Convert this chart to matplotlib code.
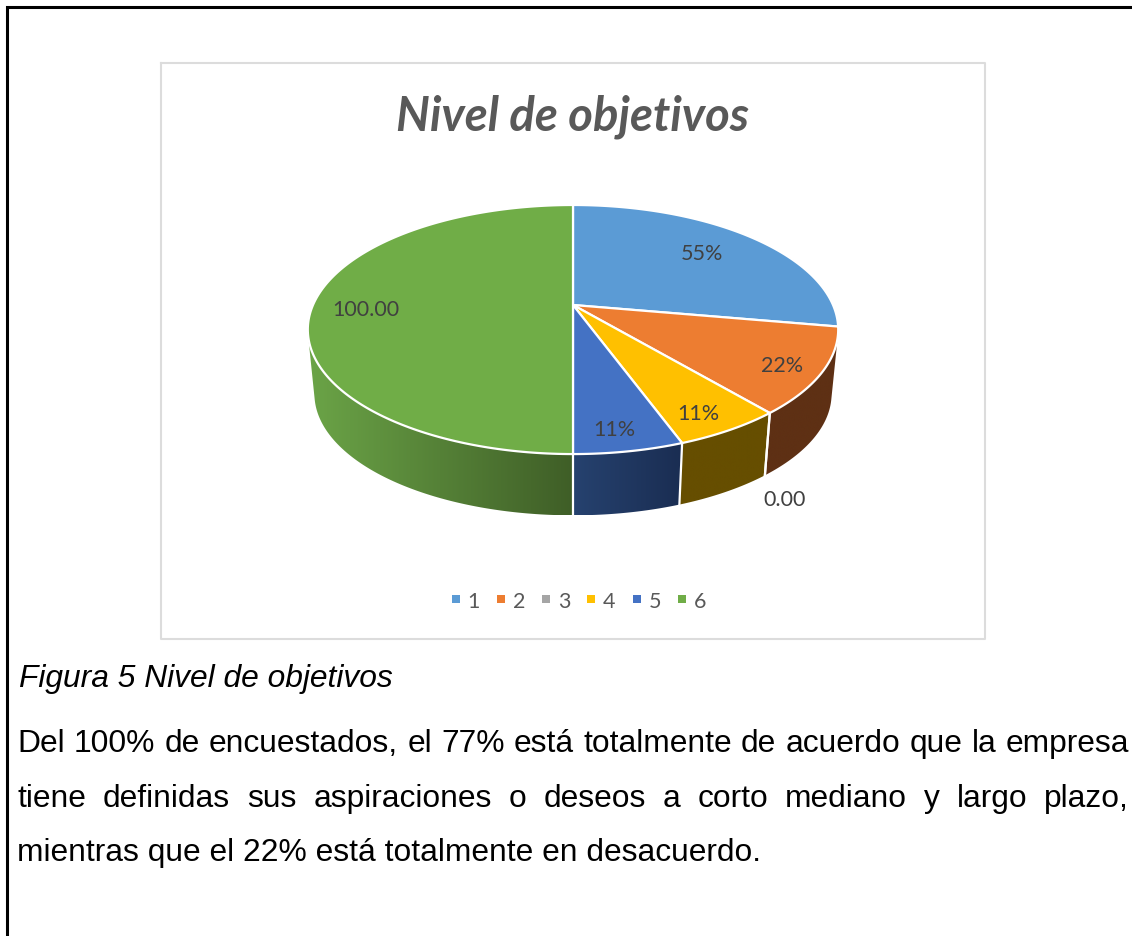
import numpy as np
import matplotlib
matplotlib.use('Agg')
import matplotlib.pyplot as plt
from matplotlib.colors import to_rgb
from matplotlib.lines import Line2D
from matplotlib.patches import Polygon

categories = ['1', '2', '3', '4', '5', '6']
values = [0.5556, 0.2222, 0.00, 0.1111, 0.1111, 1.00]
labels = ['55%', '22%', '', '11%', '11%', '100.00']
zero_label = '0.00'
top_colors = ['#5b9bd5', '#ed7d31', '#a5a5a5', '#ffc000', '#4472c4', '#70ad47']
side_right = ['#2e5a85', '#5e3014', '#555555', '#664e00', '#1a2d52', '#3f5e27']
side_left = ['#2e5a85', '#5e3014', '#555555', '#664e00', '#26426f', '#6ba447']

title = 'Nivel de objetivos'
caption = 'Figura 5 Nivel de objetivos'
para = ['Del 100% de encuestados, el 77% está totalmente de acuerdo que la empresa',
        'tiene definidas sus aspiraciones o deseos a corto mediano y largo plazo,',
        'mientras que el 22% está totalmente en desacuerdo.']

W, H = 1132, 937
fig = plt.figure(figsize=(W / 100, H / 100), dpi=100)
ax = fig.add_axes([0, 0, 1, 1])
ax.axis('off')

# page border and chart frame
ax.plot([7, 7, W], [H, 8, 8], color='black', lw=2.2, solid_joinstyle='miter')
ax.plot([160.5, 985, 985, 160.5, 160.5], [63.5, 63.5, 640, 640, 63.5], color='#dcdcdc', lw=1.5)

# perspective of the tilted disc
cx, cy = 573, 306
rx, ry, k = 260, 119.7, 0.197
low_scale, low_cy = 0.975, 371


def project(t):
    # t is the angle clockwise from the top, y comes back in pixels downward
    u, v = np.sin(t), np.cos(t)
    return rx * u / (1 + k * v), -ry * v / (1 + k * v)


def top_pt(t):
    x, y = project(t)
    return cx + x, cy + y


def low_pt(t):
    x, y = project(t)
    return cx + low_scale * x, low_cy + low_scale * y


edges = np.cumsum([0] + values) / sum(values) * 2 * np.pi

# side wall first, the top face hides the back of it
for i in range(len(values)):
    if values[i] == 0:
        continue
    tt = np.linspace(edges[i], edges[i + 1], 400)
    x1, y1 = top_pt(tt)
    x2, y2 = low_pt(tt)
    # keep only the front of the rim, up to where the wall turns away
    keep = np.gradient(x1) * (y2 - y1) - np.gradient(y1) * (x2 - x1) < 0
    if keep.sum() < 2:
        continue
    px = np.r_[x1[keep], x2[keep][::-1]]
    py = np.r_[y1[keep], y2[keep][::-1]]
    wall = Polygon(np.c_[px, py], closed=True, facecolor='none', edgecolor='none')
    ax.add_patch(wall)
    # colour runs from left to right across the wall
    grad = np.linspace(to_rgb(side_left[i]), to_rgb(side_right[i]), 256)[None, :, :]
    img = ax.imshow(grad, extent=[px.min(), px.max(), py.max(), py.min()], aspect='auto', zorder=2)
    img.set_clip_path(wall)

ax.set_xlim(0, W)
ax.set_ylim(H, 0)

# vertical white edges between the visible walls
for e in edges[1:]:
    if np.cos(e) < -0.2:
        x1, y1 = top_pt(e)
        x2, y2 = low_pt(e)
        ax.plot([x1, x2], [y1, y2], color='white', lw=1.6, zorder=3)

# top face
for i in range(len(values)):
    if values[i] == 0:
        continue
    tt = np.linspace(edges[i], edges[i + 1], 200)
    x, y = top_pt(tt)
    ax.fill(np.r_[cx, x], np.r_[cy, y], facecolor=top_colors[i], edgecolor='white', lw=1.6,
            joinstyle='round', zorder=4)

# data labels
label_font = 'Lato'
label_pos = [(702, 254), (782, 366), None, (698, 414), (614, 430), (366, 310)]
for lab, pos in zip(labels, label_pos):
    if pos is not None:
        ax.text(pos[0], pos[1], lab, fontsize=15.5, family=label_font, color='#404040',
                ha='center', va='center', zorder=5)
ax.text(785, 500, zero_label, fontsize=15.5, family=label_font, color='#404040',
        ha='center', va='center', zorder=5)

ax.text(573, 117, title, fontsize=34, family=label_font, fontweight='bold', fontstyle='italic',
        color='#595959', ha='center', va='center')

handles = [Line2D([], [], ls='none', marker='s', ms=5.8, color=c, mew=0) for c in top_colors]
ax.legend(handles, categories, loc='center', bbox_to_anchor=(574.5 / W, 1 - 602 / H), ncols=6,
          frameon=False, handletextpad=-0.05, columnspacing=0.37, handlelength=1.2,
          prop={'family': label_font, 'size': 15.5}, labelcolor='#595959')

# text below the chart
ax.text(19, 687, caption, fontsize=22.9, family='Liberation Sans', fontstyle='italic',
        color='black', ha='left', va='baseline')

fig.canvas.draw()
renderer = fig.canvas.get_renderer()


def width_of(s):
    t = ax.text(0, 0, s, fontsize=22.9, family='Liberation Sans')
    w = t.get_window_extent(renderer).width
    t.remove()
    return w


# first two lines are justified, the last one is not
for line, base, justify in zip(para, [752, 807, 861], [True, True, False]):
    if not justify:
        ax.text(17, base, line, fontsize=22.9, family='Liberation Sans', color='black', va='baseline')
        continue
    words = line.split(' ')
    widths = [width_of(w) for w in words]
    gap = (1129 - 17 - sum(widths)) / (len(words) - 1)
    x = 17
    for w, wd in zip(words, widths):
        ax.text(x, base, w, fontsize=22.9, family='Liberation Sans', color='black', va='baseline')
        x += wd + gap

fig.savefig('out.png', dpi=100)
